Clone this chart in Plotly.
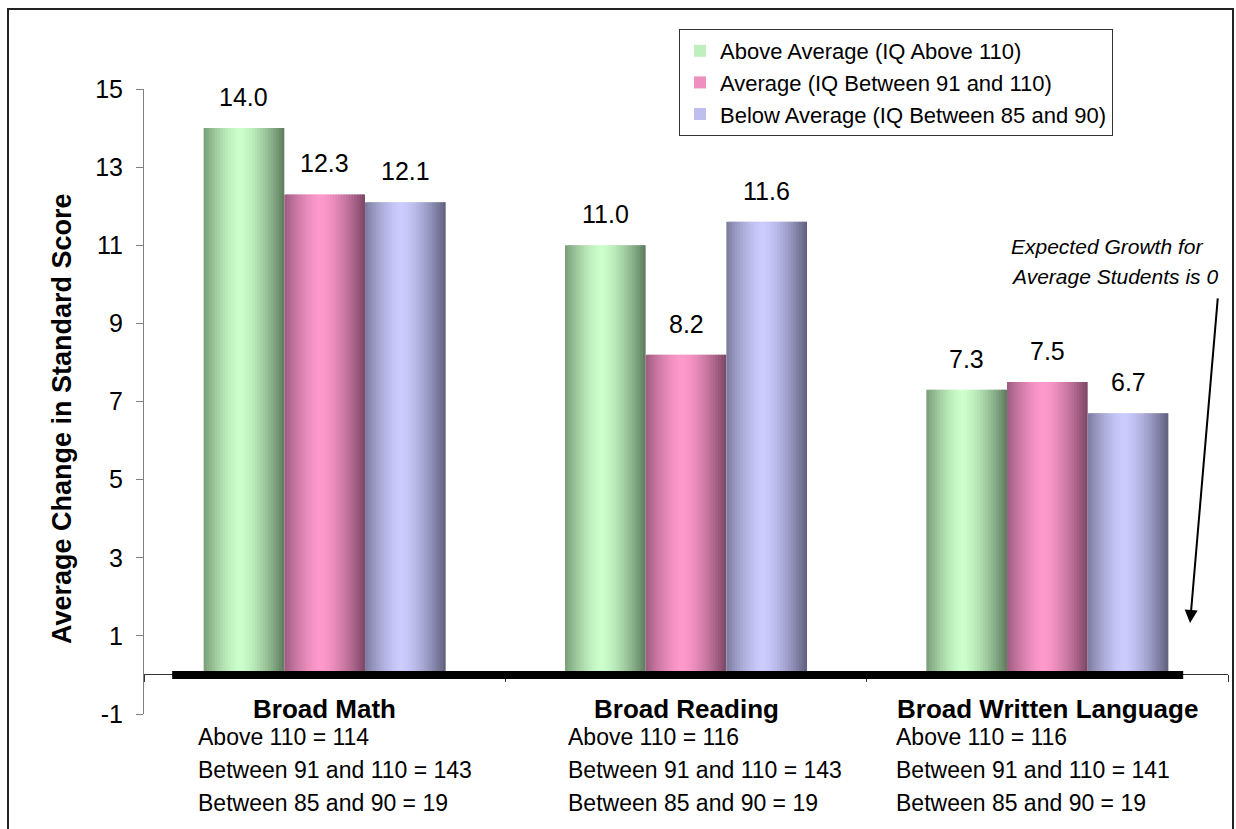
import plotly.graph_objects as go

# ---- data ----
categories = ["Broad Math", "Broad Reading", "Broad Written Language"]
series_names = [
    "Above Average (IQ Above 110)",
    "Average (IQ Between 91 and 110)",
    "Below Average (IQ Between 85 and 90)",
]
above_avg = [14.0, 11.0, 7.3]
average = [12.3, 8.2, 7.5]
below_avg = [12.1, 11.6, 6.7]
n_above = [114, 116, 116]
n_average = [143, 143, 141]
n_below = [19, 19, 19]
y_ticks = [-1, 1, 3, 5, 7, 9, 11, 13, 15]
y_tick_text = ["-1", "1", "3", "5", "7", "9", "11", "13", "15"]

# ---- styling ----
FONT = "Liberation Sans, Arial, Helvetica, sans-serif"
W, H = 1236, 829
ML, MR, MT, MB = 144, 8, 89, 115
PW, PH = W - ML - MR, H - MT - MB

# edge (dark) and centre (light) colours of each cylinder-like bar
edge_cols = [(92, 122, 92), (122, 70, 100), (94, 94, 124)]
mid_cols = [(204, 255, 204), (255, 153, 204), (204, 204, 255)]
BAR_W = 0.2233
N_SLICE = 30
HL_POS = 0.45


def shade(edge, mid, t):
    d = abs(t - HL_POS) / max(HL_POS, 1 - HL_POS)
    m = 1 - d ** 1.5
    c = [round(e + (h - e) * m) for e, h in zip(edge, mid)]
    return "rgb({},{},{})".format(*c)


def px_to_paper_x(px):
    return (px - ML) / PW


def px_to_paper_y(py):
    return (H - MB - py) / PH


xs = list(range(len(categories)))
series_vals = [above_avg, average, below_avg]

fig = go.Figure()
sw = BAR_W / N_SLICE
for s, (name, vals) in enumerate(zip(series_names, series_vals)):
    base_off = -1.5 * BAR_W + s * BAR_W
    for k in range(N_SLICE):
        t = (k + 0.5) / N_SLICE
        off = base_off + k * sw
        width = min(sw * 1.6, base_off + BAR_W - off)
        fig.add_trace(go.Bar(
            x=xs, y=vals, name=name,
            offset=off, width=width,
            marker=dict(color=shade(edge_cols[s], mid_cols[s], t), line=dict(width=0)),
            legendgroup=name,
            showlegend=(k == 9),
            hovertemplate="%{y:.1f}<extra>" + name + "</extra>",
        ))

annotations = []
# value labels
for s, vals in enumerate(series_vals):
    for i, v in enumerate(vals):
        annotations.append(dict(
            x=i - BAR_W + s * BAR_W, y=v, xref="x", yref="y",
            text=f"{v:.1f}", showarrow=False, yanchor="middle", yshift=31,
            font=dict(family=FONT, size=25, color="black"),
        ))

# category names and group sizes under the axis
label_shift = [-129, -120, -153]
for i, cat in enumerate(categories):
    annotations.append(dict(
        x=i, y=px_to_paper_y(709), xref="x", yref="paper",
        text=f"<b>{cat}</b>", showarrow=False, yanchor="middle",
        font=dict(family=FONT, size=26, color="black"),
    ))
    lines = [
        f"Above 110 = {n_above[i]}",
        f"Between 91 and 110 = {n_average[i]}",
        f"Between 85 and 90 = {n_below[i]}",
    ]
    for j, ln in enumerate(lines):
        annotations.append(dict(
            x=i, y=px_to_paper_y(737 + 33 * j), xref="x", yref="paper",
            xshift=label_shift[i], text=ln, showarrow=False,
            xanchor="left", yanchor="middle",
            font=dict(family=FONT, size=23, color="black"),
        ))

# y-axis title
annotations.append(dict(
    x=px_to_paper_x(45), y=px_to_paper_y(419), xref="paper", yref="paper",
    text="<b>Average Change in Standard Score</b>", textangle=-90,
    showarrow=False, font=dict(family=FONT, size=27, color="black"),
))

# note with arrow pointing at zero
for j, ln in enumerate(["Expected Growth for", "Average Students is 0"]):
    annotations.append(dict(
        x=px_to_paper_x(1009), y=px_to_paper_y(246.5 + 30 * j),
        xref="paper", yref="paper", text=f"<i>{ln}</i>", showarrow=False,
        xanchor="left", yanchor="middle",
        font=dict(family=FONT, size=21, color="black"),
    ))
annotations.append(dict(
    x=2.395, y=1.33, xref="x", yref="y",
    ax=2.472, ay=9.68, axref="x", ayref="y",
    text="", showarrow=True, arrowhead=2, arrowsize=1.3, arrowwidth=2,
    arrowcolor="black", standoff=0,
))

shapes = [
    # thick baseline at zero
    dict(type="line", xref="x", yref="y", x0=-0.422, x1=2.376, y0=0, y1=0,
         line=dict(color="black", width=8), layer="above"),
    # outer frame
    dict(type="rect", xref="paper", yref="paper",
         x0=px_to_paper_x(8), x1=px_to_paper_x(1233),
         y0=px_to_paper_y(845), y1=px_to_paper_y(9),
         line=dict(color="#222222", width=2), fillcolor="rgba(0,0,0,0)"),
]

fig.update_layout(
    width=W, height=H,
    margin=dict(l=ML, r=MR, t=MT, b=MB, pad=0),
    paper_bgcolor="white", plot_bgcolor="white",
    barmode="overlay",
    font=dict(family=FONT, color="black"),
    showlegend=True,
    legend=dict(
        x=px_to_paper_x(679), y=px_to_paper_y(29), xanchor="left", yanchor="top",
        bgcolor="white", bordercolor="#333333", borderwidth=1,
        font=dict(family=FONT, size=22, color="black"),
        tracegroupgap=0,
    ),
    xaxis=dict(
        range=[-0.5, 2.5], anchor="free", position=px_to_paper_y(674),
        tickmode="array", tickvals=[-0.5, 0.5, 1.5, 2.5], showticklabels=False,
        ticks="outside", ticklen=7, tickcolor="#333333",
        showline=True, linecolor="#333333", linewidth=1,
        showgrid=False, zeroline=False, fixedrange=True,
    ),
    yaxis=dict(
        range=[-1, 15], tickmode="array", tickvals=y_ticks, ticktext=y_tick_text,
        ticks="outside", ticklen=7, tickcolor="#808080",
        showline=True, linecolor="#808080", linewidth=1,
        showgrid=False, zeroline=False, ticklabelstandoff=8,
        tickfont=dict(family=FONT, size=25, color="black"),
    ),
    annotations=annotations,
    shapes=shapes,
)

fig.write_html("out.html")
